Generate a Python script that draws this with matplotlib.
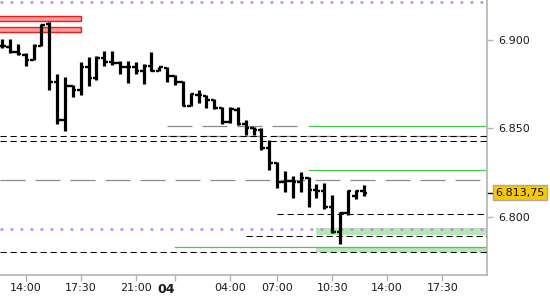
import matplotlib
matplotlib.use('Agg')
import matplotlib.pyplot as plt
from matplotlib.patches import Rectangle
import numpy as np

# 30 min bars, bar 0 = 14:00
bars = np.arange(-3, 44)
opens = [6896.5, 6896.0, 6893.0, 6891.5, 6888.75, 6896.5, 6909.0, 6876.25, 6855.0, 6874.0,
         6871.5, 6884.75, 6878.25, 6889.75, 6887.5, 6887.0, 6884.75, 6884.5, 6882.5, 6885.25,
         6882.75, 6884.25, 6879.75, 6876.25, 6862.75, 6869.0, 6868.5, 6866.0, 6861.5, 6853.5,
         6860.5, 6852.5, 6850.25, 6849.25, 6839.0, 6830.5, 6819.75, 6820.25, 6819.75, 6822.0,
         6815.0, 6814.75, 6805.5, 6791.75, 6802.5, 6812.0, 6814.75]
highs = [6900.5, 6900.5, 6897.5, 6892.5, 6897.5, 6909.0, 6910.25, 6880.75, 6879.25, 6874.5,
         6887.75, 6890.5, 6891.0, 6893.75, 6893.75, 6888.0, 6888.0, 6887.75, 6886.5, 6893.0,
         6885.0, 6884.5, 6880.25, 6877.0, 6870.25, 6871.75, 6869.0, 6866.5, 6862.25, 6862.0,
         6862.0, 6854.75, 6851.0, 6850.25, 6843.5, 6831.25, 6826.25, 6823.25, 6825.5, 6822.75,
         6818.5, 6819.0, 6812.5, 6803.0, 6815.25, 6815.25, 6818.0]
lows = [6895.25, 6892.5, 6891.5, 6885.5, 6888.75, 6896.5, 6871.75, 6852.5, 6848.75, 6868.0,
        6869.0, 6874.0, 6877.5, 6885.5, 6886.0, 6880.75, 6875.5, 6880.75, 6875.0, 6882.5,
        6882.5, 6876.5, 6874.5, 6862.75, 6862.75, 6864.25, 6861.5, 6860.75, 6852.5, 6853.0,
        6852.0, 6846.25, 6846.25, 6838.0, 6826.5, 6816.25, 6814.0, 6810.5, 6814.25, 6805.75,
        6810.5, 6804.25, 6790.75, 6785.0, 6801.0, 6810.0, 6812.0]
closes = [6896.5, 6893.0, 6892.0, 6888.75, 6896.5, 6908.5, 6876.25, 6855.0, 6874.0, 6871.5,
          6884.75, 6878.25, 6890.0, 6887.5, 6887.0, 6884.75, 6884.5, 6882.5, 6885.25, 6882.75,
          6884.5, 6879.75, 6876.25, 6862.75, 6869.5, 6869.0, 6866.0, 6861.5, 6853.5, 6860.75,
          6852.5, 6850.5, 6849.25, 6839.0, 6830.5, 6819.75, 6820.25, 6819.75, 6822.0, 6815.0,
          6814.75, 6805.5, 6791.75, 6802.5, 6814.5, 6814.75, 6813.75]
last_price = 6813.75

time_ticks = [0, 7, 14, 19, 26, 32, 39, 46, 53]
time_labels = ['14:00', '17:30', '21:00', '04', '04:00', '07:00', '10:30', '14:00', '17:30']
price_ticks = [6800, 6850, 6900]

# horizontal levels
purple_levels = [6921.75, 6793.25]
red_zone_low = [6910.75, 6904.75]
red_zone_high = [6913.5, 6907.5]
red_zone_end = 7
black_full = [6845.75, 6842.75, 6780.25]
black_part = [6801.75, 6789.25]
black_part_start = [32, 28]
gray_full = [6821.0]
gray_part = [6851.5, 6846.0]
gray_part_start = [18, 18]
gray_part_end = [35.6, None]
green_lines = [6851.5, 6826.5, 6783.0]
green_line_start = [36, 36, 19]
green_line_colors = ['#44cc44', '#44cc44', '#5cbc5c']
green_zone_low = [6790.0, 6780.0]
green_zone_high = [6794.0, 6782.75]
green_zone_start = 37


def fmt_price(v):
    return f'{v:,.0f}'.replace(',', '.')


def fmt_last(v):
    return f'{v:,.2f}'.replace(',', ' ').replace('.', ',').replace(' ', '.')


def run():
    fig = plt.figure(figsize=(5.5, 3), dpi=100)
    ax = fig.add_axes([0, 25 / 300, 487 / 550, 275 / 300])
    x0, x1 = -3.27, 58.7
    ax.set_xlim(x0, x1)
    ax.set_ylim(6767.2, 6922.6)

    # zones
    for lo, hi in zip(green_zone_low, green_zone_high):
        ax.add_patch(Rectangle((green_zone_start, lo), x1 - green_zone_start + 1, hi - lo,
                               fc='#b4e8b4', ec='none', zorder=1))
    for lo, hi in zip(red_zone_low, red_zone_high):
        ax.add_patch(Rectangle((x0 - 1, lo), red_zone_end - x0 + 1, hi - lo,
                               fc='#f89a9a', ec='#ee1c1c', lw=1, zorder=2))

    # levels
    for y in gray_full:
        ax.plot([x0, x1], [y, y], color='#8a8a8a', lw=0.9, dashes=(20, 8), zorder=2)
    for y, s, e in zip(gray_part, gray_part_start, gray_part_end):
        ax.plot([s, e if e is not None else x1], [y, y], color='#8a8a8a', lw=0.9,
                dashes=(20, 8), zorder=2)
    for y, s, c in zip(green_lines, green_line_start, green_line_colors):
        ax.plot([s, x1], [y, y], color=c, lw=0.9, zorder=2)
    for y in black_full:
        ax.plot([x0, x1], [y, y], color='k', lw=0.75, dashes=(6, 3.6), zorder=3)
    for y, s in zip(black_part, black_part_start):
        ax.plot([s, x1], [y, y], color='k', lw=0.75, dashes=(6, 3.6), zorder=3)
    for y in purple_levels:
        ax.plot([x0, x1], [y, y], color='#c68fe2', lw=2, dashes=(1, 2.6),
                dash_capstyle='butt', zorder=3)

    # OHLC bars
    ax.vlines(bars, lows, highs, color='k', lw=2.3, zorder=4)
    ax.hlines(opens, bars - 0.45, bars, color='k', lw=1.7, zorder=4)
    ax.hlines(closes, bars, bars + 0.45, color='k', lw=1.7, zorder=4)

    for s in ['top', 'left']:
        ax.spines[s].set_visible(False)
    for s in ['right', 'bottom']:
        ax.spines[s].set_color('#b4b4b4')
        ax.spines[s].set_linewidth(1.2)

    ax.yaxis.tick_right()
    ax.set_yticks(price_ticks, [fmt_price(v) for v in price_ticks])
    ax.tick_params(axis='y', length=4, width=1, color='#b4b4b4', labelsize=8, pad=4,
                   labelcolor='#1a1a1a')
    ax.set_xticks(time_ticks, time_labels)
    ax.tick_params(axis='x', length=4, width=1, color='#b4b4b4', labelsize=8, pad=2,
                   labelcolor='#1a1a1a')
    day = ax.get_xticklabels()[time_labels.index('04')]
    day.set_fontweight('bold')
    day.set_fontsize(9)
    day.set_ha('right')

    # last price marker
    trans = ax.get_yaxis_transform()
    ax.plot([1.0, 1.012], [last_price, last_price], color='k', lw=1, transform=trans,
            clip_on=False)
    ax.text(1.017, last_price, fmt_last(last_price), transform=trans, ha='left', va='center',
            fontsize=8, color='#111111',
            bbox=dict(boxstyle='square,pad=0.2', fc='#f8c800', ec='#a8a8a8', lw=1))
    return fig


def main():
    fig = run()
    fig.savefig('out.png', dpi=100)


if __name__ == '__main__':
    main()
